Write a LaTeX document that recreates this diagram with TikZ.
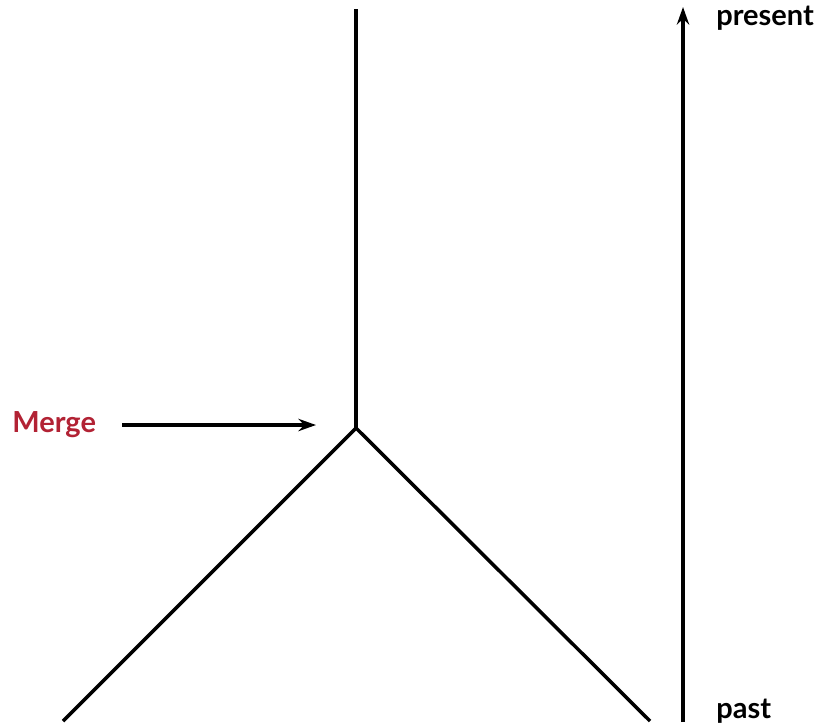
\documentclass[tikz,border=0pt]{standalone}
\usepackage{fontspec}
\setmainfont{Lato}
\usetikzlibrary{arrows.meta, positioning}
\definecolor{mergered}{RGB}{178,34,52}

\begin{document}
\begin{tikzpicture}[
  x=0.02cm, y=-0.02cm,
  branch/.style={line width=2pt, line cap=butt},
  arr/.style={-{Stealth[length=10pt, width=7pt]}, line width=2pt},
  lbl/.style={font=\fontsize{16.5}{19}\selectfont\bfseries, inner sep=0pt}
]
\useasboundingbox (0,0) rectangle (817,727);

\coordinate (top) at (356,9);
\coordinate (merge) at (356,428);
\coordinate (leftend) at (63,721);
\coordinate (rightend) at (650,721);
\coordinate (pastend) at (683,722);
\coordinate (presentend) at (683,7);

\draw[branch] (top) -- (merge);
\draw[branch] (leftend) -- (merge) -- (rightend);

\node[lbl, text=mergered, anchor=west] (mergelbl) at (12,425) {Merge};
\coordinate (mergetail) at (122,425);
\coordinate (mergetip) at (316,425);
\draw[arr] (mergetail) -- (mergetip);

\draw[arr] (pastend) -- (presentend);
\node[lbl, anchor=west] (present) at (716,18) {present};
\node[lbl, anchor=west] (past) at (716,711) {past};

\end{tikzpicture}
\end{document}
